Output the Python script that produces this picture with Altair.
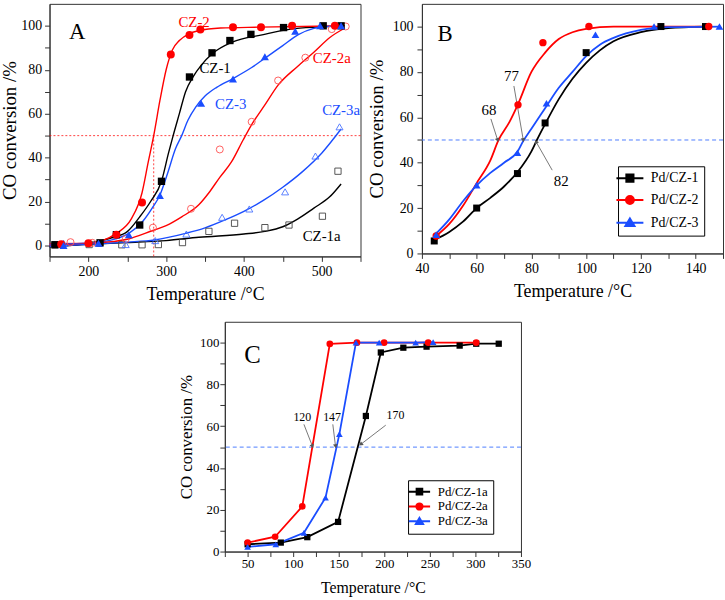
import math
import altair as alt
import pandas as pd

FONT = "Liberation Serif"
FRAME = "#333333"
BLACK = "#000000"
RED = "#ff0000"
BLUE = "#1a4dff"
PINK = "#ff5050"

# ---------------- Panel A : measured points ----------------
A_cz1_T = [157, 215, 236, 266, 294, 330, 359, 382, 409, 451, 502, 525]
A_cz1_Y = [0.3, 1.2, 4.9, 9.3, 29.2, 76.7, 87.7, 93.3, 96.1, 99.2, 100, 100]
A_cz2_T = [165, 200, 236, 269, 306, 330, 344, 386, 422, 462, 517]
A_cz2_Y = [0.5, 1.0, 4.9, 19.6, 86.9, 95.8, 98.3, 99.3, 99.3, 100, 100]
A_cz3_T = [168, 213, 252, 292, 345, 386, 427, 466, 498, 525]
A_cz3_Y = [0.0, 1.0, 4.9, 22.7, 64.7, 75.8, 85.9, 97.5, 100, 100]
A_cz1a_T = [157, 201, 243, 269, 290, 321, 355, 388, 427, 458, 501, 521]
A_cz1a_Y = [0.3, 0.4, 0.3, 0.3, 0.4, 1.3, 6.4, 10.1, 8.1, 9.3, 13.3, 33.8]
A_cz2a_T = [177, 205, 248, 283, 332, 369, 410, 444, 479, 513, 531]
A_cz2a_Y = [1.5, 1.2, 2.9, 8.1, 16.7, 43.7, 56.3, 75.1, 85.5, 98.5, 99.7]
A_cz3a_T = [168, 214, 248, 286, 326, 372, 407, 453, 492, 523]
A_cz3a_Y = [1.0, 1.0, 0.4, 2.2, 5.2, 12.8, 16.6, 24.4, 40.7, 54.0]

# ---------------- Panel A : fitted curves ----------------
A_fit1_T = [150, 200, 230, 250, 266, 280, 294, 303, 309, 317, 325, 335, 345, 360, 385, 425, 460, 500, 525]
A_fit1_Y = [-0.5, 1, 3.5, 6.3, 13, 20, 29.2, 42, 50, 60, 70, 77, 82, 87.5, 92.6, 96, 98.5, 99.5, 100]
A_fit2_T = [150, 200, 236, 255, 269, 277, 284, 292, 300, 308, 317, 330, 342, 370, 420, 530]
A_fit2_Y = [0.8, 1, 5.5, 12, 24, 38, 50, 66, 80, 89, 93.3, 96.5, 97.8, 99, 99.4, 100]
A_fit3_T = [150, 200, 235, 252, 270, 282, 292, 302, 312, 320, 328, 338, 350, 365, 386, 410, 430, 450, 470, 490, 510, 525]
A_fit3_Y = [0.5, 1, 3, 5.5, 11, 17, 23, 33, 44, 50, 57, 63, 68, 72, 76, 81, 86, 91, 96, 98.8, 99.8, 100]
A_fit1a_T = [150, 200, 250, 300, 342, 400, 427, 450, 469, 490, 510, 525]
A_fit1a_Y = [-0.5, 0.5, 1.3, 2.2, 3.7, 5.2, 6.4, 8.5, 12, 17, 22, 28]
A_fit2a_T = [150, 200, 250, 283, 300, 320, 342, 355, 369, 384, 399, 410, 427, 444, 469, 490, 511, 530]
A_fit2a_Y = [0, 0.8, 2.8, 6.8, 9, 13, 18.5, 24, 31, 38, 48, 55, 64, 73, 81.5, 88, 94.8, 99]
A_fit3a_T = [150, 200, 250, 285, 325, 350, 375, 400, 425, 450, 475, 500, 525]
A_fit3a_Y = [-0.4, 0.5, 1.5, 2.5, 5.5, 8, 11.5, 15.5, 20.5, 26.5, 33.5, 42, 53]

A_ref_T = 284
REF_Y = 50

A_lab_text = ["CZ-2", "CZ-1", "CZ-3", "CZ-2a", "CZ-3a", "CZ-1a"]
A_lab_T = [336, 363, 383, 513, 525, 500]
A_lab_Y = [101.5, 80.7, 64.4, 85.2, 61.5, 4.4]
A_lab_col = [RED, BLACK, BLUE, RED, BLUE, BLACK]

# ---------------- Panel B ----------------
B_names = ["Pd/CZ-1", "Pd/CZ-2", "Pd/CZ-3"]
B_colors = [BLACK, RED, BLUE]
B_cz1_T = [44.5, 60, 74.9, 85, 100, 127.3, 143.6]
B_cz1_Y = [5.5, 20, 35.2, 57.5, 88.5, 100, 100]
B_cz2_T = [45.2, 75.1, 84.2, 101, 144.8]
B_cz2_Y = [7.7, 65.5, 92.9, 100, 100]
B_cz3_T = [45.2, 60, 74.9, 85.5, 103.4, 124.8, 148.7]
B_cz3_Y = [8.3, 30.1, 44.4, 66.2, 96.4, 100, 100]

B_fit1_T = [44.5, 50, 55, 60, 65, 70, 75, 80, 82, 85, 90, 95, 100, 105, 110, 120, 130, 143.6]
B_fit1_Y = [6, 9.5, 14, 20, 24.5, 29.5, 36, 45, 50, 57, 68, 77, 84, 89.5, 93.5, 97.5, 99.3, 100]
B_fit2_T = [45, 50, 55, 60, 65, 68, 72, 75, 80, 85, 90, 95, 100, 110, 145]
B_fit2_Y = [7.5, 13, 21, 31, 41, 50, 58, 65.5, 80, 88.5, 94.5, 97.5, 99, 100, 100]
B_fit3_T = [45, 50, 55, 60, 65, 70, 75, 77, 80, 85, 90, 95, 100, 105, 110, 120, 130, 149]
B_fit3_Y = [8.5, 15, 23, 30, 35.5, 40, 45, 49.5, 55, 64, 73, 80, 87, 92, 95, 98.5, 99.7, 100]

B_arr_text = ["68", "77", "82"]
B_arr_T1 = [65.2, 73.6, 87.6]
B_arr_Y1 = [59.3, 73.8, 36.7]
B_arr_T2 = [67.6, 77.0, 81.8]
B_arr_Y2 = [50.2, 50.2, 49.0]
B_txt_T = [64.5, 72.7, 90.9]
B_txt_Y = [63.3, 78.3, 32.0]

# ---------------- Panel C ----------------
C_names = ["Pd/CZ-1a", "Pd/CZ-2a", "Pd/CZ-3a"]
C_colors = [BLACK, RED, BLUE]
C_cz1a_T = [50, 86.4, 115.5, 149.3, 179.8, 196.2, 220.9, 246.4, 282.7, 300.9, 325.6]
C_cz1a_Y = [3.5, 4.3, 6.9, 14.2, 64.9, 95.3, 97.6, 98.1, 98.6, 99.5, 99.5]
C_cz2a_T = [50, 80.2, 110, 140.2, 170, 199.8, 248.2, 300.9]
C_cz2a_Y = [4.3, 7.1, 21.6, 99.4, 100, 100, 100, 100]
C_cz3a_T = [50, 80.9, 111.8, 135.5, 150.7, 168.9, 194.4, 234.4, 253.6]
C_cz3a_Y = [2.2, 3.5, 9.0, 25.8, 56.2, 100, 100, 100, 100.3]

C_arr_text = ["120", "147", "170"]
C_arr_T1 = [111.8, 143.5, 201.6]
C_arr_Y1 = [60.9, 60.9, 60.5]
C_arr_T2 = [120.9, 146.4, 174.7]
C_arr_Y2 = [50.7, 50.7, 51.5]
C_txt_T = [110, 142.7, 212.2]
C_txt_Y = [64.6, 64.6, 65.2]

# ---------------- geometry ----------------
A_W, A_H = 314, 255
B_W, B_H = 304, 252
C_W, C_H = 299, 232
A_XD, A_YD = [150, 550], [-5, 110]
B_XD, B_YD = [40, 150], [0, 110]
C_XD, C_YD = [25, 350], [0, 110]

X_TITLE = "Temperature /°C"
Y_TITLE = "CO conversion /%"


def axis(values, mod, title, lsize, tsize, lpad, tpad, ymax=None):
    cond = f"datum.value % {mod} == 0"
    if ymax is not None:
        cond += f" && datum.value <= {ymax}"
    return alt.Axis(values=values, labelExpr=f"{cond} ? datum.label : ''", title=title,
                    grid=False, ticks=True, tickSize=5, tickWidth=1, tickColor=FRAME,
                    domainColor=FRAME, domainWidth=1, labelFont=FONT, labelFontSize=lsize,
                    labelColor="black", titleFont=FONT, titleFontSize=tsize,
                    titleFontWeight="normal", titleColor="black", labelPadding=lpad,
                    titlePadding=tpad, labelFlush=False, labelOverlap=False)


def enc_xy(xd, yd, xax, yax, xf="T", yf="Y"):
    return dict(
        x=alt.X(f"{xf}:Q", scale=alt.Scale(domain=xd, nice=False, zero=False), axis=xax),
        y=alt.Y(f"{yf}:Q", scale=alt.Scale(domain=yd, nice=False, zero=False), axis=yax),
    )


def df(T, Y, name=""):
    return pd.DataFrame({"T": T, "Y": Y, "series": name})


def points(d, enc, shape, color, size, filled, sw=1.0):
    return alt.Chart(d).mark_point(shape=shape, filled=filled, color=color, size=size,
                                   strokeWidth=sw, opacity=1).encode(**enc)


def arrows(T1, Y1, T2, Y2, texts, tT, tY, xd, yd, w, h, xax, yax, fsize):
    sx = w / (xd[1] - xd[0])
    sy = h / (yd[1] - yd[0])
    ang = []
    for a, b, c, d_ in zip(T1, Y1, T2, Y2):
        dx = (c - a) * sx
        dy = -(d_ - b) * sy
        ang.append(math.degrees(math.atan2(dx, -dy)) % 360)
    d = pd.DataFrame({"T": T1, "Y": Y1, "T2": T2, "Y2": Y2, "ang": ang})
    enc = enc_xy(xd, yd, xax, yax)
    rule = alt.Chart(d).mark_rule(color="#555555", strokeWidth=0.8).encode(
        **enc, x2="T2:Q", y2="Y2:Q")
    head = alt.Chart(d).mark_point(shape="triangle", filled=True, color="#555555", size=22,
                                   opacity=1).encode(
        **enc_xy(xd, yd, xax, yax, xf="T2", yf="Y2"),
        angle=alt.Angle("ang:Q", scale=None))
    td = pd.DataFrame({"T": tT, "Y": tY, "txt": texts})
    txt = alt.Chart(td).mark_text(font=FONT, fontSize=fsize, color="black").encode(
        **enc, text="txt:N")
    return [rule, head, txt]


PATHS = [
    "M-3.4,0H3.4M-0.9,-0.9H0.9V0.9H-0.9Z",
    "M-3.4,0H3.4M1,0A1,1,0,1,1,-1,0A1,1,0,1,1,1,0Z",
    "M-3.4,0H3.4M0,-1.1L1.15,0.85H-1.15Z",
]


def legend_layer(d, enc, names, colors, lx, ly, fsize, ssize, rowpad, loff, pad):
    arr = "[" + ",".join(f"'{n}'" for n in names) + "]"
    idx = f"indexof({arr}, datum.value)"
    col = "[" + ",".join(f"'{c}'" for c in colors) + "][" + idx + "]"
    shp = "[" + ",".join(f"'{p}'" for p in PATHS) + "][" + idx + "]"
    leg = alt.Legend(
        title=None, orient="none", legendX=lx, legendY=ly, fillColor="white",
        strokeColor="black", padding=pad, labelFont=FONT, labelFontSize=fsize,
        labelColor="black", symbolSize=ssize, symbolStrokeWidth=2, labelOffset=loff,
        rowPadding=rowpad, symbolOpacity=1,
        symbolType=alt.ExprRef(expr=shp),
        symbolStrokeColor=alt.ExprRef(expr=col),
    )
    return alt.Chart(d).transform_filter("false").mark_point(filled=True, opacity=1).encode(
        **enc,
        color=alt.Color("series:N", scale=alt.Scale(domain=names, range=colors), legend=leg))


# ================= Panel A =================
axAx = axis(list(range(150, 551, 50)), 100, X_TITLE, 14, 18, 3, 7)
axAy = axis(list(range(0, 101, 10)), 20, Y_TITLE, 14, 19, 3, 1, ymax=100)
encA = enc_xy(A_XD, A_YD, axAx, axAy)

A_layers = []
A_layers.append(alt.Chart(pd.DataFrame({"Y": [REF_Y]})).mark_rule(
    color=RED, strokeWidth=1, strokeDash=[2, 2], opacity=0.75).encode(y=encA["y"]))
A_layers.append(alt.Chart(pd.DataFrame({"T": [A_ref_T], "Y": [A_YD[0]], "Y2": [REF_Y]})).mark_rule(
    color=RED, strokeWidth=1, strokeDash=[2, 2], opacity=0.75).encode(
    x=encA["x"], y=encA["y"], y2="Y2:Q"))

fits = [(A_fit1_T, A_fit1_Y, BLACK), (A_fit2_T, A_fit2_Y, RED), (A_fit3_T, A_fit3_Y, BLUE),
        (A_fit1a_T, A_fit1a_Y, BLACK), (A_fit2a_T, A_fit2a_Y, RED), (A_fit3a_T, A_fit3a_Y, BLUE)]
for T, Y, c in fits:
    A_layers.append(alt.Chart(df(T, Y)).mark_line(color=c, strokeWidth=1.4,
                                                 interpolate="monotone").encode(**encA))

A_layers += [
    points(df(A_cz1a_T, A_cz1a_Y), encA, "square", "#444444", 40, False, 0.9),
    points(df(A_cz2a_T, A_cz2a_Y), encA, "circle", PINK, 50, False, 0.9),
    points(df(A_cz3a_T, A_cz3a_Y), encA, "triangle-up", "#4a74ff", 50, False, 0.9),
    points(df(A_cz1_T, A_cz1_Y), encA, "square", BLACK, 55, True),
    points(df(A_cz2_T, A_cz2_Y), encA, "circle", RED, 65, True),
    points(df(A_cz3_T, A_cz3_Y), encA, "triangle-up", BLUE, 65, True),
]
A_lab = pd.DataFrame({"T": A_lab_T, "Y": A_lab_Y, "txt": A_lab_text, "col": A_lab_col})
A_layers.append(alt.Chart(A_lab).mark_text(font=FONT, fontSize=15).encode(
    **encA, text="txt:N", color=alt.Color("col:N", scale=None)))
A_layers.append(alt.Chart(pd.DataFrame({"T": [185.5], "Y": [97], "txt": ["A"]})).mark_text(
    font=FONT, fontSize=23, color="black").encode(**encA, text="txt:N"))

panelA = alt.layer(*A_layers).properties(width=A_W, height=A_H)

# ================= Panel B =================
axBx = axis(list(range(40, 151, 10)), 20, X_TITLE, 14, 18, 3, 7)
axBy = axis(list(range(0, 101, 10)), 20, Y_TITLE, 14, 19, 4, 6, ymax=100)
encB = enc_xy(B_XD, B_YD, axBx, axBy)

B_layers = []
B_layers.append(alt.Chart(pd.DataFrame({"Y": [REF_Y]})).mark_rule(
    color="#4d7dff", strokeWidth=1, strokeDash=[4, 3]).encode(y=encB["y"]))
B_fits = [(B_fit1_T, B_fit1_Y), (B_fit2_T, B_fit2_Y), (B_fit3_T, B_fit3_Y)]
for (T, Y), n, c in zip(B_fits, B_names, B_colors):
    B_layers.append(alt.Chart(df(T, Y, n)).mark_line(color=c, strokeWidth=1.8,
                                                    interpolate="monotone").encode(**encB))
B_layers += arrows(B_arr_T1, B_arr_Y1, B_arr_T2, B_arr_Y2, B_arr_text, B_txt_T, B_txt_Y,
                   B_XD, B_YD, B_W, B_H, axBx, axBy, 15)
B_layers += [
    points(df(B_cz1_T, B_cz1_Y), encB, "square", BLACK, 50, True),
    points(df(B_cz2_T, B_cz2_Y), encB, "circle", RED, 55, True),
    points(df(B_cz3_T, B_cz3_Y), encB, "triangle-up", BLUE, 60, True),
]
B_layers.append(alt.Chart(pd.DataFrame({"T": [48.5], "Y": [96.8], "txt": ["B"]})).mark_text(
    font=FONT, fontSize=23, color="black").encode(**encB, text="txt:N"))
B_layers.append(legend_layer(df(B_cz1_T, B_cz1_Y, B_names[0]), encB, B_names, B_colors,
                             198, 164, 14, 64, 6, 14, 5))
panelB = alt.layer(*B_layers).properties(width=B_W, height=B_H)

# ================= Panel C =================
axCx = axis(list(range(25, 351, 25)), 50, X_TITLE, 13, 16, 1, 9)
axCy = axis(list(range(0, 101, 10)), 20, Y_TITLE, 13, 17, 1, 4, ymax=100)
encC = enc_xy(C_XD, C_YD, axCx, axCy)

C_layers = []
C_layers.append(alt.Chart(pd.DataFrame({"Y": [REF_Y]})).mark_rule(
    color="#4d7dff", strokeWidth=1, strokeDash=[4, 3]).encode(y=encC["y"]))
C_pts = [(C_cz1a_T, C_cz1a_Y), (C_cz2a_T, C_cz2a_Y), (C_cz3a_T, C_cz3a_Y)]
for (T, Y), n, c in zip(C_pts, C_names, C_colors):
    C_layers.append(alt.Chart(df(T, Y, n)).mark_line(color=c, strokeWidth=1.8).encode(**encC))
C_layers += arrows(C_arr_T1, C_arr_Y1, C_arr_T2, C_arr_Y2, C_arr_text, C_txt_T, C_txt_Y,
                   C_XD, C_YD, C_W, C_H, axCx, axCy, 12)
C_layers += [
    points(df(C_cz1a_T, C_cz1a_Y), encC, "square", BLACK, 40, True),
    points(df(C_cz2a_T, C_cz2a_Y), encC, "circle", RED, 45, True),
    points(df(C_cz3a_T, C_cz3a_Y), encC, "triangle-up", BLUE, 45, True),
]
C_layers.append(alt.Chart(pd.DataFrame({"T": [55.5], "Y": [94], "txt": ["C"]})).mark_text(
    font=FONT, fontSize=25, color="black").encode(**encC, text="txt:N"))
C_layers.append(legend_layer(df(C_cz1a_T, C_cz1a_Y, C_names[0]), encC, C_names, C_colors,
                             185, 160, 13, 40, 0, 12, 5))
panelC = alt.layer(*C_layers).properties(width=C_W, height=C_H)

spacer = alt.Chart(pd.DataFrame({"v": [0]})).mark_point(opacity=0).encode(
    x=alt.X("v:Q", axis=None), y=alt.Y("v:Q", axis=None)
).properties(width=128, height=10, view=alt.ViewBackground(stroke="transparent"))

row1 = alt.hconcat(panelA, panelB, spacing=5).resolve_scale(
    color="independent").resolve_legend(color="independent")
row2 = alt.hconcat(spacer, panelC, spacing=0).resolve_scale(
    color="independent").resolve_legend(color="independent")

chart = alt.vconcat(row1, row2, spacing=17).resolve_scale(
    color="independent").resolve_legend(color="independent").properties(
    padding={"left": 0, "top": 0, "right": 0, "bottom": 0},
    background="white",
).configure_view(stroke=FRAME, strokeWidth=1)

chart.save("out.html", embed_options={"renderer": "svg", "actions": False})
